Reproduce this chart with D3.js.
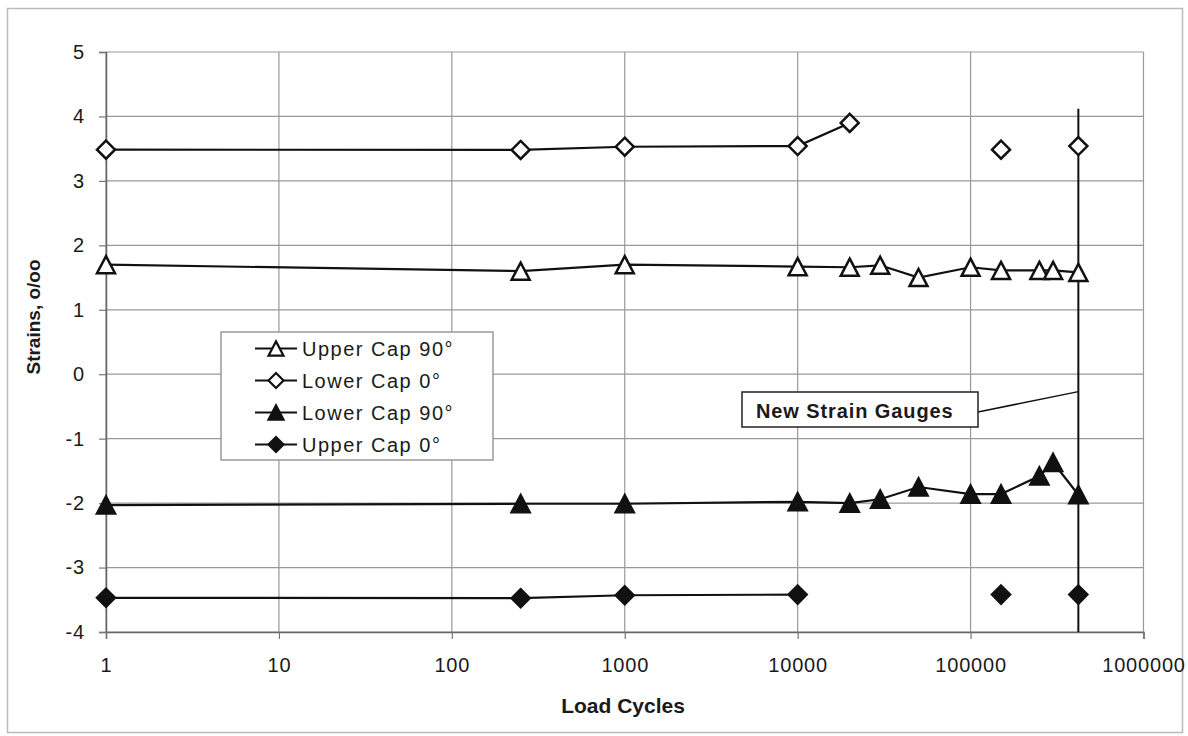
<!DOCTYPE html>
<html>
<head>
<meta charset="utf-8">
<script src="https://cdn.jsdelivr.net/npm/d3@7"></script>
<style>
  body { margin: 0; background: #fff; }
  text { font-family: "Liberation Sans", Arial, sans-serif; fill: #1a1a1a; }
</style>
</head>
<body>
<div id="svg"></div>
<script>
// load cycles shared by all gauges (null = no reading)
const cycles = [1, 250, 1000, 10000, 20000, 30000, 50000, 100000, 150000, 250000, 300000, 420000];

const upperCap90 = [1.70, 1.60, 1.70, 1.67, 1.66, 1.69, 1.50, 1.66, 1.61, 1.61, 1.61, 1.58];
const lowerCap0 = [3.485, 3.48, 3.53, 3.54, 3.90, null, null, null, 3.485, null, null, 3.54];
const lowerCap90 = [-2.03, -2.01, -2.01, -1.98, -2.0, -1.94, -1.75, -1.86, -1.86, -1.58, -1.37, -1.87];
const upperCap0 = [-3.47, -3.475, -3.43, -3.42, null, null, null, null, -3.42, null, null, -3.42];

const seriesNames = ["Upper Cap 90°", "Lower Cap 0°", "Lower Cap 90°", "Upper Cap 0°"];
const seriesValues = [upperCap90, lowerCap0, lowerCap90, upperCap0];
const seriesMarkers = ["triangle", "diamond", "triangle", "diamond"];
const seriesFilled = [false, false, true, true];

const xTicks = [1, 10, 100, 1000, 10000, 100000, 1000000];
const yTicks = [-4, -3, -2, -1, 0, 1, 2, 3, 4, 5];

// new strain gauges marker
const newGaugeCycle = 420000;
const newGaugeTop = 4.12;
const newGaugeLabelAt = -0.27;
const newGaugeText = "New Strain Gauges";

const width = 1188;
const height = 736;

const svg = d3.select('#svg')
    .append('svg')
    .attr("width", width)
    .attr("height", height);

// outer frame
svg.append("rect")
    .attr("x", 7.5).attr("y", 8.5)
    .attr("width", 1175).attr("height", 724)
    .attr("fill", "#fff")
    .attr("stroke", "#bbb")
    .attr("stroke-width", 1.5);

const x = d3.scaleLog()
    .domain([1, 1000000])
    .range([106, 1143.5]);

const y = d3.scaleLinear()
    .domain([-4, 5])
    .range([632, 52]);

// gridlines
svg.append("g")
    .selectAll("line")
    .data(yTicks)
    .enter()
    .append("line")
    .attr("x1", x(1)).attr("x2", x(1000000))
    .attr("y1", d => y(d)).attr("y2", d => y(d))
    .attr("stroke", "#999")
    .attr("stroke-width", 1.2);

svg.append("g")
    .selectAll("line")
    .data(xTicks)
    .enter()
    .append("line")
    .attr("x1", d => x(d)).attr("x2", d => x(d))
    .attr("y1", y(5)).attr("y2", y(-4))
    .attr("stroke", "#999")
    .attr("stroke-width", 1.2);

// axes (plain hyphen for negatives, like the original)
const yAxis = svg.append("g")
    .attr("transform", "translate(" + x(1) + ",0)")
    .call(d3.axisLeft(y).tickValues(yTicks).tickSize(7).tickPadding(14).tickFormat(d => String(d)));

const xAxis = svg.append("g")
    .attr("transform", "translate(0," + y(-4) + ")")
    .call(d3.axisBottom(x).tickValues(xTicks).tickSize(7).tickPadding(19).tickFormat(d => String(d)));

[yAxis, xAxis].forEach(a => {
    a.select(".domain").attr("stroke", "#666").attr("stroke-width", 1.5);
    a.selectAll(".tick line").attr("stroke", "#777").attr("stroke-width", 1.2);
    a.selectAll("text")
        .attr("fill", "#111")
        .style("font-size", "20px")
        .style("letter-spacing", "0.8px")
        .style("font-family", "'Liberation Sans', Arial, sans-serif");
});

// axis titles
svg.append("text")
    .attr("transform", "translate(40,317) rotate(-90)")
    .attr("text-anchor", "middle")
    .style("font-size", "19px")
    .style("font-weight", "bold")
    .text("Strains, o/oo");

svg.append("text")
    .attr("x", 623)
    .attr("y", 713)
    .attr("text-anchor", "middle")
    .style("font-size", "21px")
    .style("font-weight", "bold")
    .text("Load Cycles");

// marker shapes, centred on the point
function markerPath(type, s) {
    if (type == "triangle") {
        const h = s * 0.95;
        return "M0," + (-h / 2) + "L" + (s / 2) + "," + (h / 2) + "L" + (-s / 2) + "," + (h / 2) + "Z";
    }
    return "M0," + (-s / 2) + "L" + (s / 2) + ",0L0," + (s / 2) + "L" + (-s / 2) + ",0Z";
}

const line = d3.line()
    .defined(d => d.v != null)
    .x(d => x(d.c))
    .y(d => y(d.v));

// new strain gauges vertical line
svg.append("line")
    .attr("x1", x(newGaugeCycle)).attr("x2", x(newGaugeCycle))
    .attr("y1", y(newGaugeTop)).attr("y2", y(-4))
    .attr("stroke", "#111")
    .attr("stroke-width", 2);

seriesValues.forEach((vals, i) => {
    const pts = cycles.map((c, j) => ({ c: c, v: vals[j] }));
    svg.append("path")
        .datum(pts)
        .attr("d", line)
        .attr("fill", "none")
        .attr("stroke", "#111")
        .attr("stroke-width", 2.2);

    svg.selectAll(".m" + i)
        .data(pts.filter(d => d.v != null))
        .enter()
        .append("path")
        .attr("class", "m" + i)
        .attr("transform", d => "translate(" + x(d.c) + "," + y(d.v) + ")")
        .attr("d", markerPath(seriesMarkers[i], seriesMarkers[i] == "triangle" ? 18 : 18))
        .attr("fill", seriesFilled[i] ? "#111" : "#fff")
        .attr("stroke", "#111")
        .attr("stroke-width", 2.5)
        .attr("stroke-linejoin", "miter");
});

// annotation box + leader
const noteX = 742, noteY = 392, noteW = 236, noteH = 35;
svg.append("line")
    .attr("x1", noteX + noteW).attr("y1", noteY + 20)
    .attr("x2", x(newGaugeCycle)).attr("y2", y(newGaugeLabelAt))
    .attr("stroke", "#111")
    .attr("stroke-width", 1.5);
svg.append("rect")
    .attr("x", noteX).attr("y", noteY)
    .attr("width", noteW).attr("height", noteH)
    .attr("fill", "#fff")
    .attr("stroke", "#222")
    .attr("stroke-width", 1.5);
svg.append("text")
    .attr("x", noteX + 14)
    .attr("y", noteY + 26)
    .style("font-size", "20px")
    .style("font-weight", "bold")
    .style("letter-spacing", "0.9px")
    .text(newGaugeText);

// legend
const legend = svg.append("g").attr("transform", "translate(221,332)");
legend.append("rect")
    .attr("width", 272).attr("height", 128)
    .attr("fill", "#fff")
    .attr("stroke", "#999")
    .attr("stroke-width", 1.5);

const rows = legend.selectAll(".row")
    .data(seriesNames)
    .enter()
    .append("g")
    .attr("class", "row")
    .attr("transform", (d, i) => "translate(0," + (16.5 + i * 32) + ")");

rows.append("line")
    .attr("x1", 34).attr("x2", 76)
    .attr("stroke", "#111")
    .attr("stroke-width", 2);
rows.append("path")
    .attr("transform", "translate(55,0)")
    .attr("d", (d, i) => markerPath(seriesMarkers[i], 15))
    .attr("fill", (d, i) => seriesFilled[i] ? "#111" : "#fff")
    .attr("stroke", "#111")
    .attr("stroke-width", 2.2);
rows.append("text")
    .attr("x", 81)
    .attr("y", 7)
    .style("font-size", "20px")
    .style("letter-spacing", "1.5px")
    .text(d => d);
</script>
</body>
</html>
